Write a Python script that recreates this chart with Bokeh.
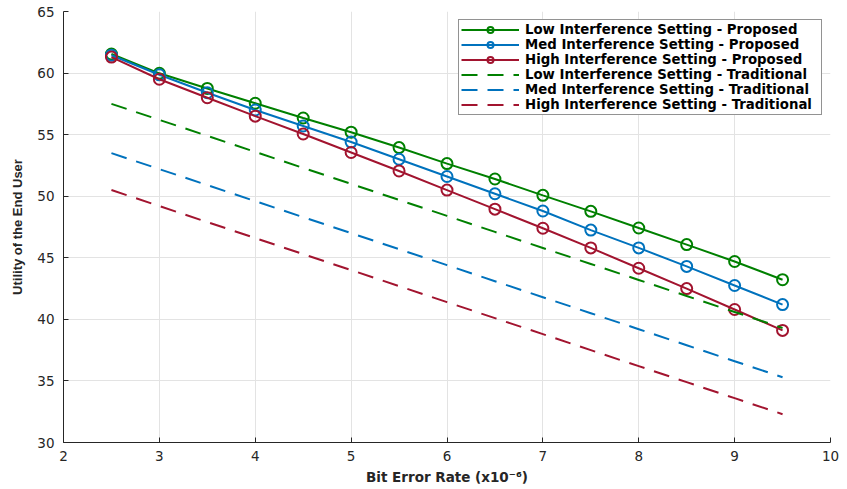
from bokeh.plotting import figure
from bokeh.models import Range1d, FixedTicker, Legend, LegendItem
from bokeh.embed import file_html
from bokeh.resources import INLINE

# Data (Bit Error Rate in units of 1e-6)
ber = [2.5, 3.0, 3.5, 4.0, 4.5, 5.0, 5.5, 6.0, 6.5, 7.0, 7.5, 8.0, 8.5, 9.0, 9.5]

low_proposed = [61.55, 59.98, 58.75, 57.55, 56.35, 55.2, 53.95, 52.65, 51.4, 50.07, 48.77, 47.42, 46.07, 44.7, 43.22]
med_proposed = [61.45, 59.86, 58.4, 57.0, 55.7, 54.4, 53.0, 51.6, 50.2, 48.8, 47.25, 45.8, 44.3, 42.75, 41.2]
high_proposed = [61.3, 59.5, 58.0, 56.5, 55.05, 53.55, 52.05, 50.5, 48.95, 47.4, 45.8, 44.15, 42.5, 40.8, 39.1]

low_traditional = [57.5, 56.2, 54.9, 53.6, 52.3, 51.0, 49.7, 48.4, 47.1, 45.8, 44.5, 43.2, 41.9, 40.6, 39.3]
med_traditional = [53.5, 52.2, 50.9, 49.6, 48.3, 47.0, 45.7, 44.4, 43.1, 41.8, 40.5, 39.2, 37.9, 36.6, 35.3]
high_traditional = [50.5, 49.2, 47.9, 46.6, 45.3, 44.0, 42.7, 41.4, 40.1, 38.8, 37.5, 36.2, 34.9, 33.6, 32.3]

x_ticks = [2, 3, 4, 5, 6, 7, 8, 9, 10]
y_ticks = [30, 35, 40, 45, 50, 55, 60, 65]

GREEN = "#008000"
BLUE = "#0072BD"
RED = "#A2142F"
AX = "#262626"
TICK_FONT = "DejaVu Sans"
BOLD_FONT = "DejaVu Sans"

p = figure(width=847, height=489, output_backend="svg", toolbar_location=None,
           x_range=Range1d(2, 10), y_range=Range1d(30, 65),
           min_border_left=63, min_border_right=17, min_border_top=11, min_border_bottom=47)
p.outline_line_color = None
p.background_fill_color = "white"
p.border_fill_color = "white"

for ax in (p.xaxis[0], p.yaxis[0]):
    ax.axis_line_color = AX
    ax.axis_line_width = 1
    ax.major_tick_line_color = AX
    ax.major_tick_in = 5
    ax.major_tick_out = 0
    ax.minor_tick_line_color = None
    ax.major_label_text_font = TICK_FONT
    ax.major_label_text_font_size = "13.5px"
    ax.major_label_text_color = AX
    ax.axis_label_text_font_style = "bold"
    ax.axis_label_text_color = AX

p.xaxis[0].ticker = FixedTicker(ticks=x_ticks)
p.yaxis[0].ticker = FixedTicker(ticks=y_ticks)
p.xaxis[0].axis_label = "Bit Error Rate (x10\u207b\u2076)"
p.xaxis[0].axis_label_text_font = BOLD_FONT
p.xaxis[0].axis_label_text_font_size = "13.5px"
p.yaxis[0].axis_label = "Utility of the End User"
p.yaxis[0].axis_label_text_font = "Liberation Sans"
p.yaxis[0].axis_label_text_font_size = "13px"
p.xaxis[0].major_label_standoff = 8
p.yaxis[0].major_label_standoff = 9
p.xaxis[0].axis_label_standoff = 5
p.yaxis[0].axis_label_standoff = 9

p.xgrid.ticker = FixedTicker(ticks=x_ticks)
p.ygrid.ticker = FixedTicker(ticks=y_ticks)
p.grid.grid_line_color = "#e3e3e3"
p.grid.grid_line_width = 1

items = []
for ys, c, name in [(low_proposed, GREEN, "Low Interference Setting - Proposed"),
                    (med_proposed, BLUE, "Med Interference Setting - Proposed"),
                    (high_proposed, RED, "High Interference Setting - Proposed")]:
    l = p.line(ber, ys, line_color=c, line_width=2)
    s = p.scatter(ber, ys, marker="circle", size=11, line_color=c, line_width=2, fill_color=None)
    items.append(LegendItem(label=name, renderers=[l, s]))

for ys, c, name in [(low_traditional, GREEN, "Low Interference Setting - Traditional"),
                    (med_traditional, BLUE, "Med Interference Setting - Traditional"),
                    (high_traditional, RED, "High Interference Setting - Traditional")]:
    l = p.line(ber, ys, line_color=c, line_width=2, line_dash="16 10")
    items.append(LegendItem(label=name, renderers=[l]))

legend = Legend(items=items, location="top_right")
legend.margin = 8
legend.padding = 2
legend.spacing = 0
legend.glyph_width = 58
legend.glyph_height = 15
legend.label_height = 15
legend.label_standoff = 6
legend.label_width = 294
legend.label_text_font = BOLD_FONT
legend.label_text_font_style = "bold"
legend.label_text_font_size = "13.3px"
legend.label_text_color = "black"
legend.border_line_color = AX
legend.border_line_width = 1
legend.background_fill_color = "white"
legend.background_fill_alpha = 1
p.add_layout(legend, "center")

open("out.html", "w").write(file_html(p, INLINE))
